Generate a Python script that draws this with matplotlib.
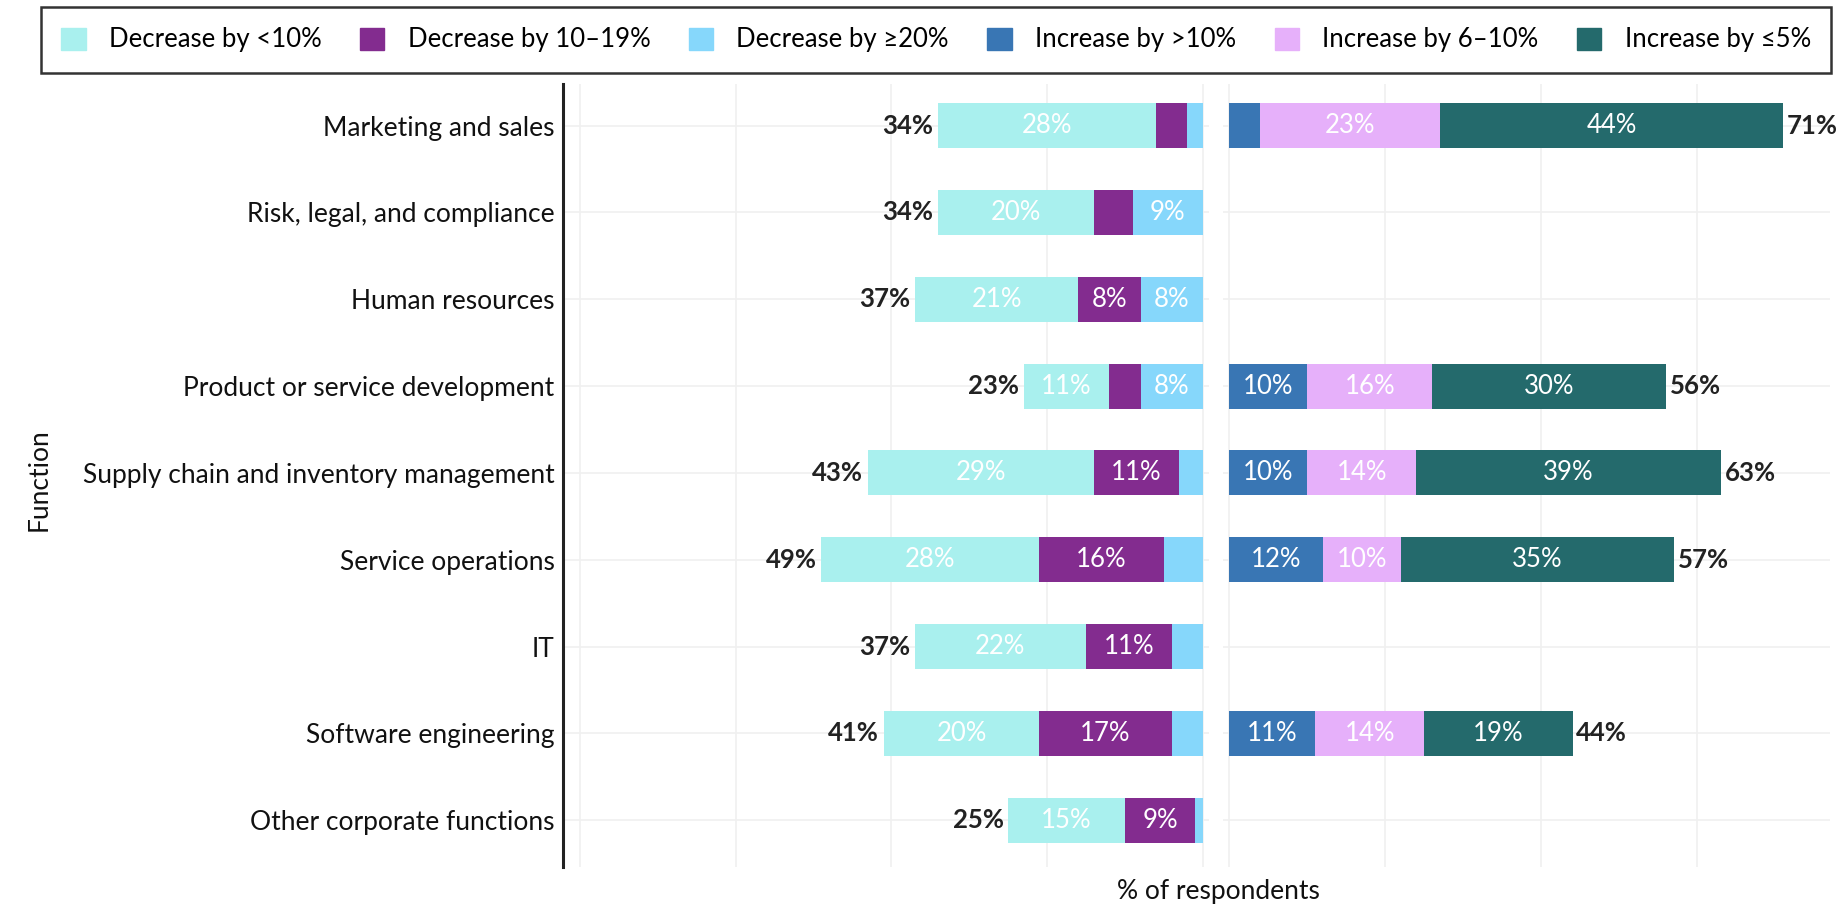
import numpy as np
import matplotlib
matplotlib.use('Agg')
import matplotlib.pyplot as plt
from matplotlib.patches import Patch

plt.rcParams['font.family'] = ['Lato', 'DejaVu Sans']

functions = ["Marketing and sales", "Risk, legal, and compliance", "Human resources",
             "Product or service development", "Supply chain and inventory management",
             "Service operations", "IT", "Software engineering", "Other corporate functions"]

# decrease segments (from the outer end towards the centre)
dec_lt10 = [28, 20, 21, 11, 29, 28, 22, 20, 15]
dec_10_19 = [4, 5, 8, 4, 11, 16, 11, 17, 9]
dec_ge20 = [2, 9, 8, 8, 3, 5, 4, 4, 1]
dec_total = [34, 34, 37, 23, 43, 49, 37, 41, 25]

# increase segments (from the centre outwards)
inc_gt10 = [4, 0, 0, 10, 10, 12, 0, 11, 0]
inc_6_10 = [23, 0, 0, 16, 14, 10, 0, 14, 0]
inc_le5 = [44, 0, 0, 30, 39, 35, 0, 19, 0]
inc_total = [71, 0, 0, 56, 63, 57, 0, 44, 0]

c_lt10 = '#A9F0EE'
c_10_19 = '#832C8F'
c_ge20 = '#86D7FB'
c_gt10 = '#3976B4'
c_6_10 = '#E6B0FA'
c_le5 = '#246A6C'

fig = plt.figure(figsize=(18.36, 9.07), dpi=100)
W, H = 1836, 907
axL = fig.add_axes([563 / W, 40 / H, 646 / W, 783 / H])
axR = fig.add_axes([1223 / W, 40 / H, 607 / W, 783 / H], sharey=axL)

y = np.arange(len(functions))
h = 0.52
fs = 18.5


def seg_label(ax, x, yy, v):
    if v >= 8:
        ax.text(x, yy, f"{v}%", ha='center', va='center', color='white', fontsize=fs)


# left: decreases (drawn to the left of zero)
a = np.array(dec_lt10)
b = np.array(dec_10_19)
c = np.array(dec_ge20)
tot = a + b + c
axL.barh(y, a, left=-tot, height=h, color=c_lt10, zorder=3)
axL.barh(y, b, left=-(b + c), height=h, color=c_10_19, zorder=3)
axL.barh(y, c, left=-c, height=h, color=c_ge20, zorder=3)
for i in range(len(functions)):
    seg_label(axL, -tot[i] + a[i] / 2, i, a[i])
    seg_label(axL, -(b[i] + c[i]) + b[i] / 2, i, b[i])
    seg_label(axL, -c[i] / 2, i, c[i])
    axL.text(-tot[i] - 0.6, i, f"{dec_total[i]}%", ha='right', va='center',
             fontsize=fs, fontweight='bold', color='#222222')

# right: increases
d = np.array(inc_gt10)
e = np.array(inc_6_10)
f = np.array(inc_le5)
axR.barh(y, d, height=h, color=c_gt10, zorder=3)
axR.barh(y, e, left=d, height=h, color=c_6_10, zorder=3)
axR.barh(y, f, left=d + e, height=h, color=c_le5, zorder=3)
for i in range(len(functions)):
    if inc_total[i] == 0:
        continue
    seg_label(axR, d[i] / 2, i, d[i])
    seg_label(axR, d[i] + e[i] / 2, i, e[i])
    seg_label(axR, d[i] + e[i] + f[i] / 2, i, f[i])
    axR.text(d[i] + e[i] + f[i] + 0.5, i, f"{inc_total[i]}%", ha='left', va='center',
             fontsize=fs, fontweight='bold', color='#222222')

axL.set_xlim(-82.2, 0.8)
axR.set_xlim(-0.8, 77)
axL.set_ylim(8.54, -0.48)

axL.set_xticks([-80, -60, -40, -20, 0])
axR.set_xticks([0, 20, 40, 60])
for ax in (axL, axR):
    ax.grid(True, color='#f0f0f0', linewidth=1.2, zorder=0)
    ax.set_axisbelow(True)
    ax.tick_params(axis='x', length=0, labelbottom=False)
    ax.tick_params(axis='y', length=0)
    for s in ax.spines.values():
        s.set_visible(False)

axL.set_yticks(y)
axL.set_yticklabels(functions, fontsize=19, color='#111111')
axL.tick_params(axis='y', pad=6)
axR.tick_params(axis='y', labelleft=False)
axL.spines['left'].set_visible(True)
axL.spines['left'].set_linewidth(2.2)
axL.spines['left'].set_color('#222222')

fig.text(39 / W, 1 - 480 / H, "Function", rotation=90, ha='center', va='center',
         fontsize=19, color='#111111')
fig.text(1218 / W, 1 - 892 / H, "% of respondents", ha='center', va='center',
         fontsize=19, color='#111111')

handles = [Patch(color=c_lt10), Patch(color=c_10_19), Patch(color=c_ge20),
           Patch(color=c_gt10), Patch(color=c_6_10), Patch(color=c_le5)]
labels = ["Decrease by <10%", "Decrease by 10\u201319%", "Decrease by \u226520%",
          "Increase by >10%", "Increase by 6\u201310%", "Increase by \u22645%"]
leg = fig.legend(handles, labels, loc='center', bbox_to_anchor=(936 / W, 1 - 40 / H),
                 ncol=6, fontsize=fs, frameon=True, fancybox=False,
                 handlelength=0.95, handleheight=0.95, columnspacing=1.5,
                 handletextpad=0.9, borderpad=0.8, borderaxespad=0)
leg.get_frame().set_edgecolor('black')
leg.get_frame().set_linewidth(1.8)

fig.savefig('out.png', dpi=100)
